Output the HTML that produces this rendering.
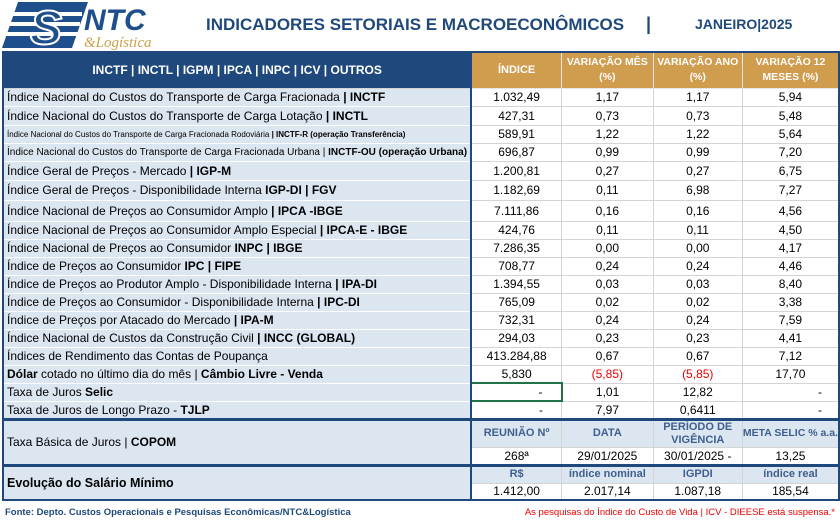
<!DOCTYPE html>
<html><head><meta charset="utf-8"><style>
body{margin:0;width:840px;height:521px;background:#fff;font-family:"Liberation Sans",sans-serif;position:relative;overflow:hidden}
.t{position:absolute;left:2px;top:51px;border-collapse:collapse;table-layout:fixed;border:2px solid #1f497d}
td{padding:0;font-size:12px;white-space:nowrap;overflow:hidden;text-align:center;border:1px solid #d4d4d4;color:#000}
td.l{text-align:left;padding-left:3px;background:#dce6f1;border-color:#fff #c8d2de;border-right:2px solid #1f497d}
.hb{background:#1f497d;color:#fff;font-weight:bold;font-size:12px;border-right:2px solid #1f497d}
.hg{background:#d09c4e;color:#fff;font-weight:bold;font-size:10.5px;line-height:15px;border-color:#e6e6e6}
.sm{font-size:8px!important}
.md{font-size:10px!important}
.r{color:#e00}
.bh{background:#dce6f1;color:#3f5f8f;font-weight:bold;font-size:11px;line-height:13px}
tr.sep td{border-top:3px solid #1f497d}
</style></head><body>
<svg style="position:absolute;left:0;top:0" width="170" height="50">
<polygon points="18,2 88,2 72,48 2,48" fill="#1f4e8c"/>
<rect x="2" y="12" width="80" height="4" fill="#fff"/><rect x="2" y="22" width="78" height="4" fill="#fff"/><rect x="2" y="32" width="76" height="4" fill="#fff"/>
<text x="30" y="44" font-family="Liberation Sans" font-weight="bold" font-style="italic" font-size="48" fill="#1f4e8c" stroke="#fff" stroke-width="2">S</text>
<text x="84" y="30" font-family="Liberation Sans" font-weight="bold" font-style="italic" font-size="30" fill="#1f4e8c">NTC</text>
<text x="84" y="47" font-family="Liberation Serif" font-style="italic" font-size="15" fill="#c9a24a">&amp;Logística</text>
</svg>
<div style="position:absolute;left:206px;top:15px;font-size:17px;font-weight:bold;color:#1f497d">INDICADORES SETORIAIS E MACROECONÔMICOS</div>
<div style="position:absolute;left:646px;top:14px;font-size:18px;font-weight:bold;color:#1f497d">|</div>
<div style="position:absolute;left:695px;top:16px;font-size:14px;font-weight:bold;color:#1f497d">JANEIRO|2025</div>
<table class="t">
<colgroup><col style="width:469px"><col style="width:96px"><col style="width:94px"><col style="width:91px"><col style="width:86px"></colgroup>
<tr style="height:36px"><td class="hb">INCTF | INCTL | IGPM | IPCA | INPC | ICV | OUTROS</td><td class="hg" style="font-size:11px">ÍNDICE</td><td class="hg">VARIAÇÃO MÊS<br>(%)</td><td class="hg">VARIAÇÃO ANO<br>(%)</td><td class="hg">VARIAÇÃO 12<br>MESES (%)</td></tr>
<tr style="height:18px"><td class="l">Índice Nacional do Custos do Transporte de Carga Fracionada <b>| INCTF</b></td><td>1.032,49</td><td>1,17</td><td>1,17</td><td>5,94</td></tr>
<tr style="height:19px"><td class="l">Índice Nacional do Custos do Transporte de Carga Lotação <b>| INCTL</b></td><td>427,31</td><td>0,73</td><td>0,73</td><td>5,48</td></tr>
<tr style="height:18px"><td class="l sm">Índice Nacional do Custos do Transporte de Carga Fracionada Rodoviária <b>| INCTF-R (operação Transferência)</b></td><td>589,91</td><td>1,22</td><td>1,22</td><td>5,64</td></tr>
<tr style="height:18px"><td class="l md">Índice Nacional do Custos do Transporte de Carga Fracionada Urbana | <b>INCTF-OU (operação Urbana)</b></td><td>696,87</td><td>0,99</td><td>0,99</td><td>7,20</td></tr>
<tr style="height:19px"><td class="l">Índice Geral de Preços - Mercado <b>| IGP-M</b></td><td>1.200,81</td><td>0,27</td><td>0,27</td><td>6,75</td></tr>
<tr style="height:20px"><td class="l">Índice Geral de Preços - Disponibilidade Interna <b>IGP-DI | FGV</b></td><td>1.182,69</td><td>0,11</td><td>6,98</td><td>7,27</td></tr>
<tr style="height:21px"><td class="l">Índice Nacional de Preços ao Consumidor Amplo <b>| IPCA -IBGE</b></td><td>7.111,86</td><td>0,16</td><td>0,16</td><td>4,56</td></tr>
<tr style="height:18px"><td class="l">Índice Nacional de Preços ao Consumidor Amplo Especial <b>| IPCA-E - IBGE</b></td><td>424,76</td><td>0,11</td><td>0,11</td><td>4,50</td></tr>
<tr style="height:18px"><td class="l">Índice Nacional de Preços ao Consumidor <b>INPC | IBGE</b></td><td>7.286,35</td><td>0,00</td><td>0,00</td><td>4,17</td></tr>
<tr style="height:18px"><td class="l">Índice de Preços ao Consumidor <b>IPC | FIPE</b></td><td>708,77</td><td>0,24</td><td>0,24</td><td>4,46</td></tr>
<tr style="height:18px"><td class="l">Índice de Preços ao Produtor Amplo - Disponibilidade Interna <b>| IPA-DI</b></td><td>1.394,55</td><td>0,03</td><td>0,03</td><td>8,40</td></tr>
<tr style="height:18px"><td class="l">Índice de Preços ao Consumidor - Disponibilidade Interna <b>| IPC-DI</b></td><td>765,09</td><td>0,02</td><td>0,02</td><td>3,38</td></tr>
<tr style="height:18px"><td class="l">Índice de Preços por Atacado do Mercado <b>| IPA-M</b></td><td>732,31</td><td>0,24</td><td>0,24</td><td>7,59</td></tr>
<tr style="height:18px"><td class="l">Índice Nacional de Custos da Construção Civil <b>| INCC (GLOBAL)</b></td><td>294,03</td><td>0,23</td><td>0,23</td><td>4,41</td></tr>
<tr style="height:18px"><td class="l">Índices de Rendimento das Contas de Poupança</td><td>413.284,88</td><td>0,67</td><td>0,67</td><td>7,12</td></tr>
<tr style="height:18px"><td class="l"><b>Dólar</b> cotado no último dia do mês | <b>Câmbio Livre - Venda</b></td><td>5,830</td><td class="r">(5,85)</td><td class="r">(5,85)</td><td>17,70</td></tr>
<tr style="height:18px"><td class="l">Taxa de Juros <b>Selic</b></td><td style="text-align:right;padding-right:18px;border:2px solid #217346">-</td><td>1,01</td><td>12,82</td><td style="text-align:right;padding-right:16px">-</td></tr>
<tr style="height:18px"><td class="l">Taxa de Juros de Longo Prazo - <b>TJLP</b></td><td style="text-align:right;padding-right:18px">-</td><td>7,97</td><td>0,6411</td><td style="text-align:right;padding-right:16px">-</td></tr>
<tr class="sep" style="height:28px"><td class="l" rowspan="2">Taxa Básica de Juros | <b>COPOM</b></td><td class="bh">REUNIÃO Nº</td><td class="bh">DATA</td><td class="bh">PERÍODO DE<br>VIGÊNCIA</td><td class="bh" style="font-size:10.5px">META SELIC % a.a.</td></tr>
<tr style="height:18px"><td>268ª</td><td>29/01/2025</td><td>30/01/2025 -</td><td>13,25</td></tr>
<tr class="sep" style="height:18px"><td class="l" rowspan="2" style="font-weight:bold;font-size:12.5px">Evolução do Salário Mínimo</td><td class="bh">R$</td><td class="bh">índice nominal</td><td class="bh">IGPDI</td><td class="bh">índice real</td></tr>
<tr style="height:17px"><td>1.412,00</td><td>2.017,14</td><td>1.087,18</td><td>185,54</td></tr>
</table>
<div style="position:absolute;left:5px;top:507px;font-size:9.5px;font-weight:bold;color:#1f497d">Fonte: Depto. Custos Operacionais e Pesquisas Econômicas/NTC&amp;Logística</div>
<div style="position:absolute;right:5px;top:507px;font-size:9.5px;color:#e00">As pesquisas do Índice do Custo de Vida | ICV - DIEESE está suspensa.*</div>
</body></html>
